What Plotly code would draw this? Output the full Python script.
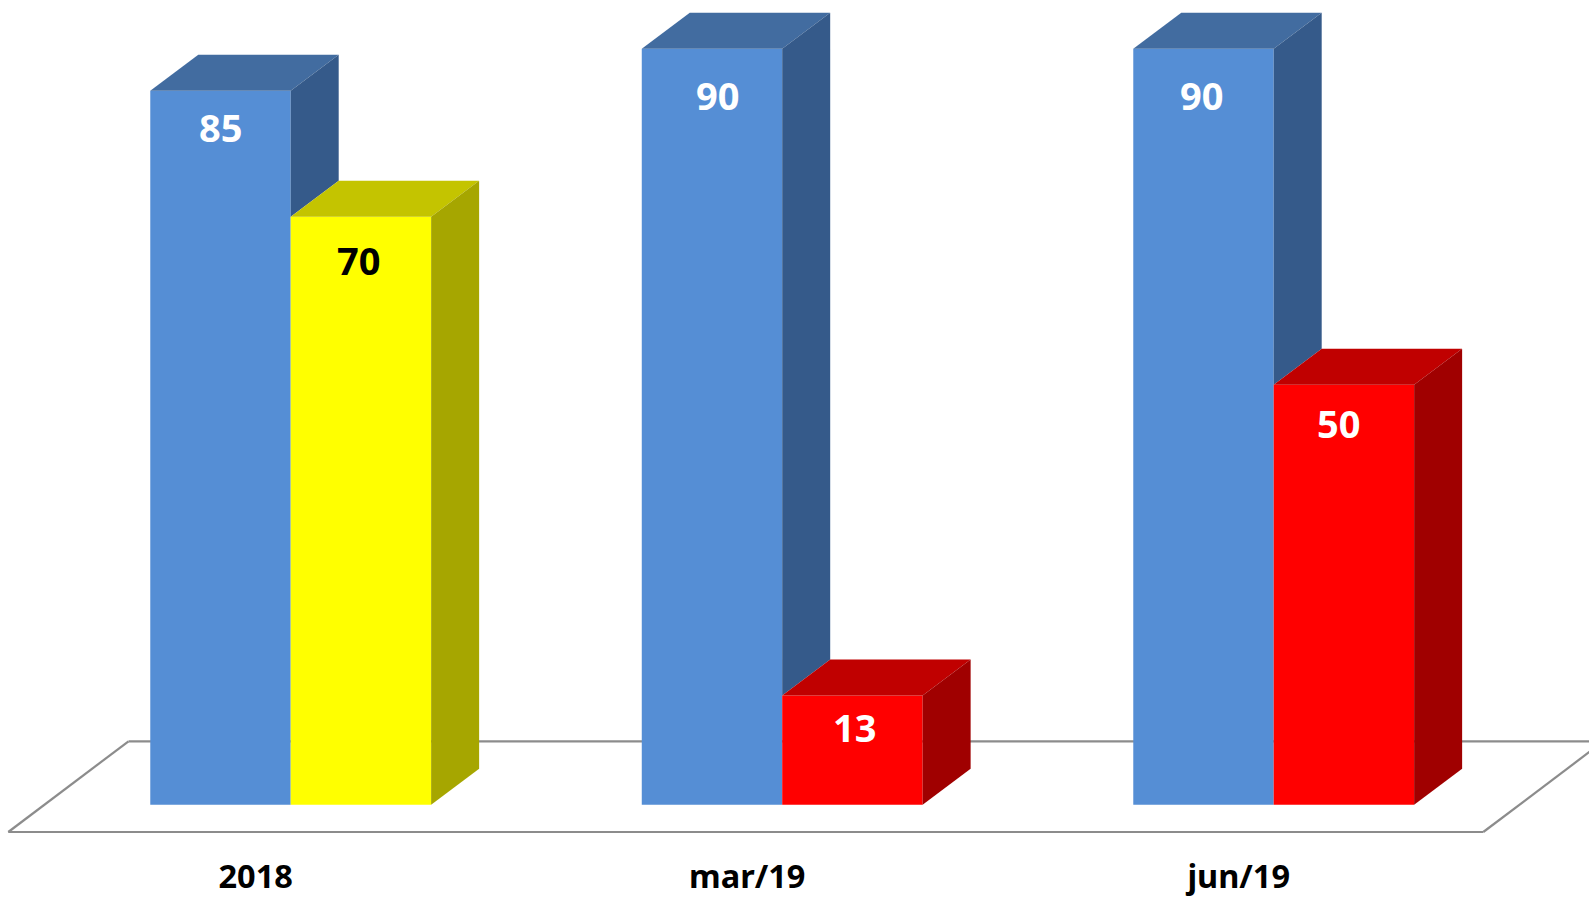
import plotly.graph_objects as go

categories = ["2018", "mar/19", "jun/19"]
series_blue = [85, 90, 90]
series_other = [70, 13, 50]

blue_faces = ("#558ED5", "#426CA0", "#355A8A")
other_faces = [("#FFFF00", "#C4C400", "#A6A600"),
               ("#FF0000", "#C00000", "#A00000"),
               ("#FF0000", "#C00000", "#A00000")]
other_text = ["#000000", "#FFFFFF", "#FFFFFF"]

W, H = 1589, 898
PX_PER_CAT = 491.5
PX_PER_UNIT = 8.4
ORIGIN_X = 290.7
ORIGIN_Y = 804.7
PLOT_BOTTOM = 852

BAR_W = 1 / 3.5
DX = 48 / PX_PER_CAT
DY = 36 / PX_PER_UNIT
FLOOR_FRONT = (ORIGIN_Y - 832) / PX_PER_UNIT
FLOOR_BACK = (ORIGIN_Y - 741.3) / PX_PER_UNIT
FLOOR_LEFT = (8.3 - ORIGIN_X) / PX_PER_CAT
FLOOR_RIGHT = (1483.3 - ORIGIN_X) / PX_PER_CAT
FLOOR_DX = (128.5 - 8.3) / PX_PER_CAT
LABEL_SHIFT = -35

positions = list(range(len(categories)))
fig = go.Figure()

fig.add_trace(go.Bar(x=positions, y=series_blue, width=BAR_W, offset=-BAR_W,
                     marker=dict(color=blue_faces[0], line_width=0),
                     name="A", hoverinfo="x+y"))
fig.add_trace(go.Bar(x=positions, y=series_other, width=BAR_W, offset=0,
                     marker=dict(color=[f[0] for f in other_faces], line_width=0),
                     name="B", hoverinfo="x+y"))


def poly(xs, ys, color):
    fig.add_trace(go.Scatter(x=xs + xs[:1], y=ys + ys[:1], mode="lines", fill="toself",
                             fillcolor=color, line=dict(width=0, color=color),
                             hoverinfo="skip", showlegend=False))


for i in positions:
    a, b = series_blue[i], series_other[i]
    # blue box: top face and the part of the side face not hidden by the neighbour
    poly([i - BAR_W, i, i + DX, i - BAR_W + DX], [a, a, a + DY, a + DY], blue_faces[1])
    poly([i, i + DX, i + DX, i], [a, a + DY, b + DY, b], blue_faces[2])
    # neighbour box
    poly([i, i + BAR_W, i + BAR_W + DX, i + DX], [b, b, b + DY, b + DY], other_faces[i][1])
    poly([i + BAR_W, i + BAR_W + DX, i + BAR_W + DX, i + BAR_W],
         [b, b + DY, DY, 0], other_faces[i][2])

floor_style = dict(color="#8C8C8C", width=2.2)
floor_edges = [
    (FLOOR_LEFT, FLOOR_FRONT, FLOOR_RIGHT, FLOOR_FRONT),
    (FLOOR_LEFT, FLOOR_FRONT, FLOOR_LEFT + FLOOR_DX, FLOOR_BACK),
    (FLOOR_LEFT + FLOOR_DX, FLOOR_BACK, FLOOR_RIGHT + FLOOR_DX, FLOOR_BACK),
    (FLOOR_RIGHT, FLOOR_FRONT, FLOOR_RIGHT + FLOOR_DX, FLOOR_BACK),
]
shapes = [dict(type="line", layer="below", xref="x", yref="y", x0=a, y0=b, x1=c, y1=d,
               line=floor_style) for a, b, c, d in floor_edges]

blue_label_nudge = [(0, 36), (6, 46), (-2, 46)]
other_label_nudge = [(-2, 43), (2, 31), (-5, 38)]
label_font = "Noto Sans"
annotations = []
for i in positions:
    annotations.append(dict(x=i - BAR_W / 2, y=series_blue[i], text=f"<b>{series_blue[i]}</b>",
                            showarrow=False, xshift=blue_label_nudge[i][0],
                            yshift=-blue_label_nudge[i][1],
                            font=dict(family=label_font, size=38, color="#FFFFFF")))
    annotations.append(dict(x=i + BAR_W / 2, y=series_other[i], text=f"<b>{series_other[i]}</b>",
                            showarrow=False, xshift=other_label_nudge[i][0],
                            yshift=-other_label_nudge[i][1],
                            font=dict(family=label_font, size=38, color=other_text[i])))

fig.update_layout(
    width=W, height=H, margin=dict(l=0, r=0, t=0, b=H - PLOT_BOTTOM, autoexpand=False),
    paper_bgcolor="#FFFFFF", plot_bgcolor="#FFFFFF", showlegend=False, barmode="overlay",
    shapes=shapes, annotations=annotations,
    xaxis=dict(range=[-ORIGIN_X / PX_PER_CAT, (W - ORIGIN_X) / PX_PER_CAT],
               tickmode="array",
               tickvals=[p + LABEL_SHIFT / PX_PER_CAT for p in positions],
               ticktext=[f"<b>{c}</b>" for c in categories],
               tickfont=dict(family=label_font, size=32.5, color="#000000"),
               showgrid=False, zeroline=False, showline=False, ticks="", ticklabelstandoff=2),
    yaxis=dict(range=[(ORIGIN_Y - PLOT_BOTTOM) / PX_PER_UNIT, ORIGIN_Y / PX_PER_UNIT],
               showgrid=False, zeroline=False, showline=False, showticklabels=False, ticks=""),
)

fig.write_html("out.html", config={"displayModeBar": False},
               post_script="document.body.style.margin='0';document.documentElement.style.overflow='hidden';")
